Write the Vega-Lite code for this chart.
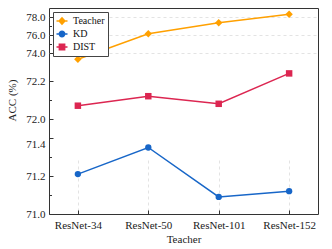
{
  "$schema": "https://vega.github.io/schema/vega-lite/v6.json",
  "padding": {"left": 6, "top": 8, "right": 15, "bottom": 5},
  "width": 269,
  "height": 206,
  "data": {
    "values": [
      {"teacher": "ResNet-34", "series": "Teacher", "acc": 73.31},
      {"teacher": "ResNet-50", "series": "Teacher", "acc": 76.13},
      {"teacher": "ResNet-101", "series": "Teacher", "acc": 77.37},
      {"teacher": "ResNet-152", "series": "Teacher", "acc": 78.31},
      {"teacher": "ResNet-34", "series": "DIST", "acc": 72.07},
      {"teacher": "ResNet-50", "series": "DIST", "acc": 72.12},
      {"teacher": "ResNet-101", "series": "DIST", "acc": 72.08},
      {"teacher": "ResNet-152", "series": "DIST", "acc": 72.24},
      {"teacher": "ResNet-34", "series": "KD", "acc": 71.21},
      {"teacher": "ResNet-50", "series": "KD", "acc": 71.35},
      {"teacher": "ResNet-101", "series": "KD", "acc": 71.09},
      {"teacher": "ResNet-152", "series": "KD", "acc": 71.12}
    ]
  },
  "encoding": {
    "x": {"field": "teacher", "type": "nominal", "sort": ["ResNet-34", "ResNet-50", "ResNet-101", "ResNet-152"], "scale": {"type": "point", "padding": 0.41},
      "axis": {"orient": "bottom", "labels": true, "ticks": true, "domain": false, "title": "Teacher", "grid": true, "labelAngle": 0, "tickSize": -4, "labelPadding": 9, "titlePadding": 3}},
    "color": {"field": "series", "type": "nominal", "scale": {"domain": ["Teacher", "KD", "DIST"], "range": ["#FFA000", "#1766C8", "#DC2651"]},
      "legend": {
        "orient": "top-left", "offset": 4, "title": null, "padding": 3,
        "strokeColor": "#444", "fillColor": "white", "cornerRadius": 0,
        "labelFont": "Liberation Serif", "labelFontSize": 10, "labelColor": "#111",
        "symbolSize": 100, "rowPadding": 1, "labelOffset": 5,
        "encoding": {
          "symbols": {
            "shape": {"condition": [
              {"test": "datum.value === 'Teacher'", "value": "M-1.1,0H1.1M0,-0.65L0.6,0L0,0.65L-0.6,0Z"},
              {"test": "datum.value === 'KD'", "value": "M-1.1,0H1.1M0.55,0A0.55,0.55,0,1,1,-0.55,0A0.55,0.55,0,1,1,0.55,0Z"}
            ], "value": "M-1.1,0H1.1M-0.55,-0.55H0.55V0.55H-0.55Z"},
            "fill": {"condition": [
              {"test": "datum.value === 'Teacher'", "value": "#FFA000"},
              {"test": "datum.value === 'KD'", "value": "#1766C8"}
            ], "value": "#DC2651"},
            "stroke": {"condition": [
              {"test": "datum.value === 'Teacher'", "value": "#FFA000"},
              {"test": "datum.value === 'KD'", "value": "#1766C8"}
            ], "value": "#DC2651"},
            "strokeWidth": {"value": 1.3},
            "opacity": {"value": 1}
          }
        }
      }}
  },
  "layer": [
    {
      "transform": [{"filter": "datum.series === 'Teacher'"}],
      "encoding": {
        "y": {"field": "acc", "type": "quantitative", "scale": {"domain": [73, 79], "range": [54, 0], "zero": false, "nice": false},
          "axis": {"orient": "left", "values": [74, 75, 76, 77, 78], "format": ".1f",
            "labelExpr": "(datum.value == 75 || datum.value == 77) ? '' : datum.label",
            "gridOpacity": {"condition": {"test": "datum.value == 75 || datum.value == 77", "value": 0}, "value": 1},
            "tickDash": {"condition": {"test": "datum.value == 75 || datum.value == 77", "value": [2.5, 20]}, "value": [20, 0]},
            "title": null}}
      },
      "layer": [
        {"mark": {"type": "line", "strokeWidth": 1.5}},
        {"mark": {"type": "point", "filled": true, "shape": "diamond", "size": 55, "opacity": 1}}
      ]
    },
    {
      "transform": [{"filter": "datum.series === 'DIST'"}],
      "encoding": {
        "y": {"field": "acc", "type": "quantitative", "scale": {"domain": [71.9, 72.3], "range": [130, 54], "zero": false, "nice": false},
          "axis": {"orient": "left", "values": [72.0, 72.1, 72.2], "format": ".1f",
            "labelExpr": "datum.value == 72.1 ? '' : datum.label",
            "gridOpacity": {"condition": {"test": "datum.value == 72.1", "value": 0}, "value": 1},
            "tickDash": {"condition": {"test": "datum.value == 72.1", "value": [2.5, 20]}, "value": [20, 0]},
            "title": "ACC (%)"}}
      },
      "layer": [
        {"mark": {"type": "line", "strokeWidth": 1.5}},
        {"mark": {"type": "point", "filled": true, "shape": "square", "size": 42, "opacity": 1}}
      ]
    },
    {
      "transform": [{"filter": "datum.series === 'KD'"}],
      "encoding": {
        "y": {"field": "acc", "type": "quantitative", "scale": {"domain": [71.0, 71.4], "range": [206, 130], "zero": false, "nice": false},
          "axis": {"orient": "left", "values": [71.0, 71.1, 71.2, 71.3, 71.4], "format": ".1f",
            "labelExpr": "(datum.value == 71.1 || datum.value == 71.3) ? '' : datum.label",
            "labelBaseline": {"condition": {"test": "datum.value == 71.4", "value": "top"}, "value": "middle"},
            "gridOpacity": {"condition": {"test": "datum.value == 71.1 || datum.value == 71.3", "value": 0}, "value": 1},
            "tickDash": {"condition": {"test": "datum.value == 71.1 || datum.value == 71.3", "value": [2.5, 20]}, "value": [20, 0]},
            "title": null}}
      },
      "layer": [
        {"mark": {"type": "line", "strokeWidth": 1.5}},
        {"mark": {"type": "point", "filled": true, "shape": "circle", "size": 40, "opacity": 1}}
      ]
    }
  ],
  "resolve": {"scale": {"y": "independent"}, "axis": {"y": "independent"}},
  "config": {
    "view": {"stroke": "#333", "strokeWidth": 1},
    "font": "Liberation Serif",
    "axis": {
      "labelFont": "Liberation Serif", "labelFontSize": 11, "labelColor": "#222",
      "titleFont": "Liberation Serif", "titleFontSize": 11, "titleFontWeight": "normal", "titleColor": "#222",
      "domain": false,
      "tickColor": "#333", "tickWidth": 1,
      "gridColor": "#dcdcdc", "gridDash": [3, 3], "gridWidth": 0.8
    },
    "axisY": {"tickSize": -4, "labelPadding": 8, "titlePadding": 8},
    "axisX": {"labelAngle": 0}
  }
}
